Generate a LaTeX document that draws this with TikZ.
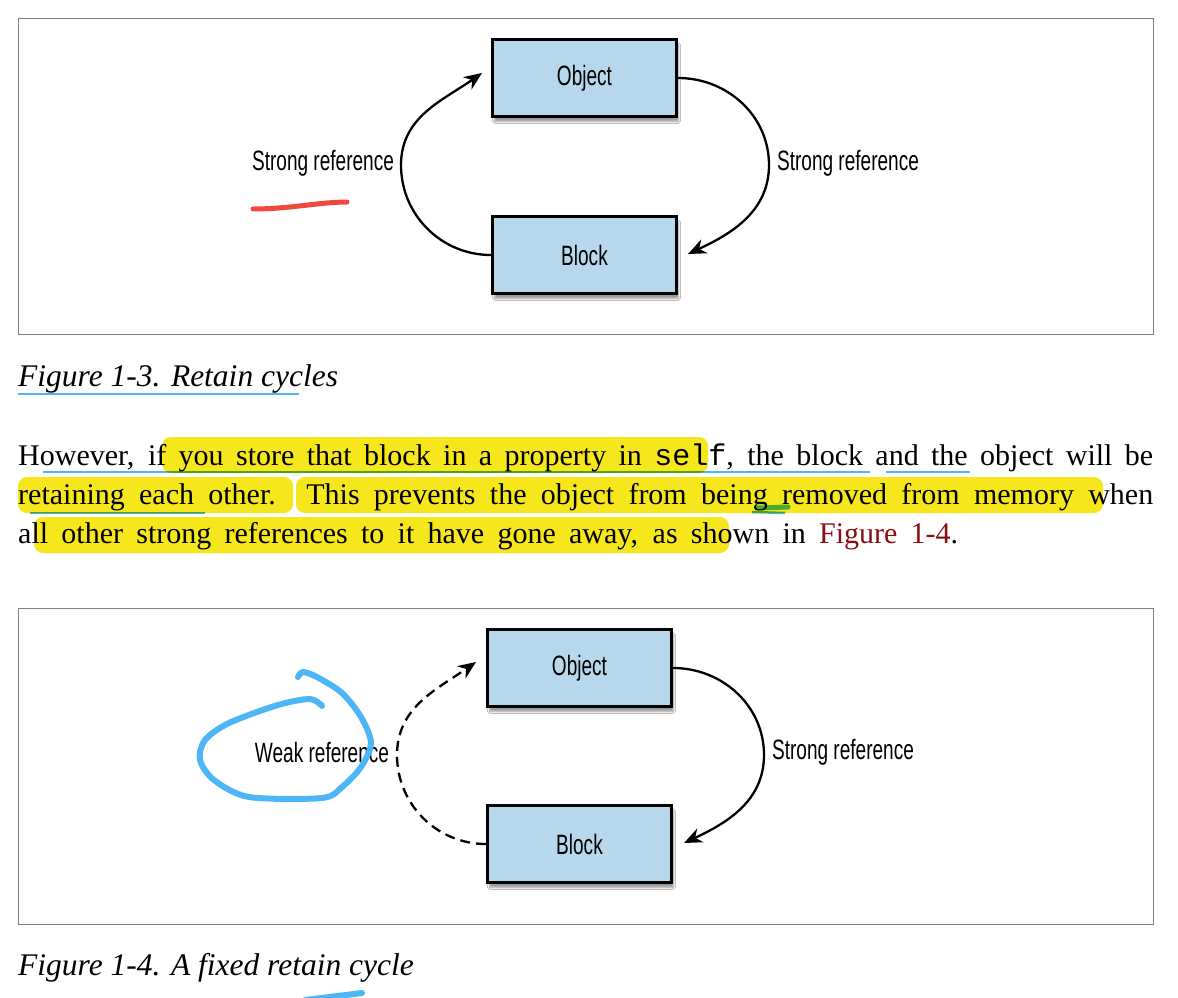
\documentclass[tikz,border=0pt]{standalone}
\usepackage{fontspec}
\setmainfont{Liberation Serif}
\setmonofont{Liberation Mono}
\newfontfamily\figfont[FakeStretch=0.68]{Liberation Sans}
\usetikzlibrary{arrows.meta,calc,shadows.blur}
\definecolor{boxblue}{HTML}{B7D7EC}
\definecolor{framegray}{HTML}{808080}
\definecolor{hiyellow}{HTML}{F5E71B}
\definecolor{penblue}{HTML}{4DB6F7}
\definecolor{pengreen}{HTML}{4CA82E}
\definecolor{penred}{HTML}{F0483C}
\definecolor{linkred}{HTML}{8B0D12}

\begin{document}
\begin{tikzpicture}[x=1pt,y=1pt,
  frame/.style={draw=framegray,line width=0.8pt},
  objbox/.style={draw=black,line width=3pt,fill=boxblue,minimum width=184pt,minimum height=77pt,
    font=\figfont\fontsize{28}{30}\selectfont,
    blur shadow={shadow xshift=2pt,shadow yshift=-5pt,shadow blur steps=6,shadow opacity=40}},
  lbl/.style={font=\figfont\fontsize{28}{30}\selectfont},
  ref/.style={line width=2.3pt,-{Stealth[length=18pt,width=15pt]}},
  weak/.style={ref,dash pattern=on 10pt off 6pt},
  hilite/.style={fill=hiyellow,rounded corners=9pt},
  uline/.style={draw=penblue,line width=2.5pt},
  pen/.style={line width=6pt,line cap=round,line join=round},
  para/.style={anchor=base west,inner sep=0pt,font=\fontsize{30}{34}\selectfont},
  capline/.style={para,font=\fontsize{31.5}{34}\selectfont\itshape}]
\useasboundingbox[fill=white] (0,0) rectangle (1178,-998);

% Figure 1-3
\draw[frame] (18,-18) rectangle (1153,-334);
\coordinate (o1) at (584.5,-78);
\coordinate (b1) at (584.5,-255);
\node[objbox] (obj1) at (o1) {Object};
\node[objbox] (blk1) at (b1) {Block};
\coordinate (l1) at (401,-165);
\coordinate (r1) at (769,-165);
\coordinate (t1) at ($(obj1.west)+(-9,5)$);
\coordinate (t2) at ($(blk1.east)+(10,1)$);
\draw[ref] (blk1.west) to[out=180,in=-90] (l1) to[out=90,in=215] (t1);
\draw[ref] (obj1.east) to[out=0,in=90] (r1) to[out=-90,in=25] (t2);
\node[lbl] (sl1) at (323,-163) {Strong reference};
\node[lbl] (sr1) at (848,-163) {Strong reference};

\node[capline] (cap1) at (18,-386) {Figure 1-3. Retain cycles};

% highlights
\fill[hilite] (162,-437) rectangle (708,-473);
\fill[hilite] (18,-477) rectangle (293,-513);
\fill[hilite] (296,-477) rectangle (1103,-513);
\fill[hilite] (34,-517) rectangle (729,-553);

% pen underlines
\begin{scope}[blend mode=multiply]
\draw[uline] (18,-394) -- (299,-394);
\draw[uline] (43,-472) -- (870,-472);
\draw[uline] (886,-472) -- (970,-472);
\draw[uline] (30,-513) -- (205,-513);
\draw[uline] (752,-512) -- (785,-513);
\end{scope}
\draw[draw=pengreen,line width=5pt,line cap=round] (757,-508) -- (788,-507);

\node[para] (ln1) at (18,-465) {\makebox[1135pt][s]{However, if you store that block in a property in \texttt{self}, the block and the object will be}};
\node[para] (ln2) at (18,-504) {\makebox[1135pt][s]{retaining each other. This prevents the object from being removed from memory when}};
\node[para] (ln3) at (18,-543) {\makebox[940pt][s]{all other strong references to it have gone away, as shown in \textcolor{linkred}{Figure 1-4}.}};

% Figure 1-4
\draw[frame] (18,-608) rectangle (1153,-924);
\coordinate (o2) at (579.5,-668);
\coordinate (b2) at (579.5,-844);
\node[objbox] (obj2) at (o2) {Object};
\node[objbox] (blk2) at (b2) {Block};
\coordinate (l2) at (397,-755);
\coordinate (r2) at (764,-755);
\coordinate (t3) at ($(obj2.west)+(-10,6)$);
\coordinate (t4) at ($(blk2.east)+(11,1)$);
\draw[weak] (blk2.west) to[out=180,in=-90] (l2) to[out=90,in=215] (t3);
\draw[ref] (obj2.east) to[out=0,in=90] (r2) to[out=-90,in=25] (t4);
\node[lbl] (wl2) at (322,-752) {Weak reference};
\node[lbl] (sr2) at (843,-752) {Strong reference};

\node[capline] (cap2) at (18,-975) {Figure 1-4. A fixed retain cycle};

% scribbles
\draw[pen,draw=penred,line width=5pt] (253,-209) .. controls (290,-209) and (320,-202) .. (347,-202);
\draw[pen,draw=penblue] plot[smooth] coordinates {(322,-706) (310,-699) (278,-705) (229,-723) (205,-740)
  (200,-760) (214,-780) (249,-797) (322,-798) (342,-787) (361,-767) (371,-743) (361,-717)
  (342,-693) (317,-677) (303,-672) (298,-677)};
\draw[pen,draw=penblue] (305,-1000) -- (362,-993);
\end{tikzpicture}
\end{document}
